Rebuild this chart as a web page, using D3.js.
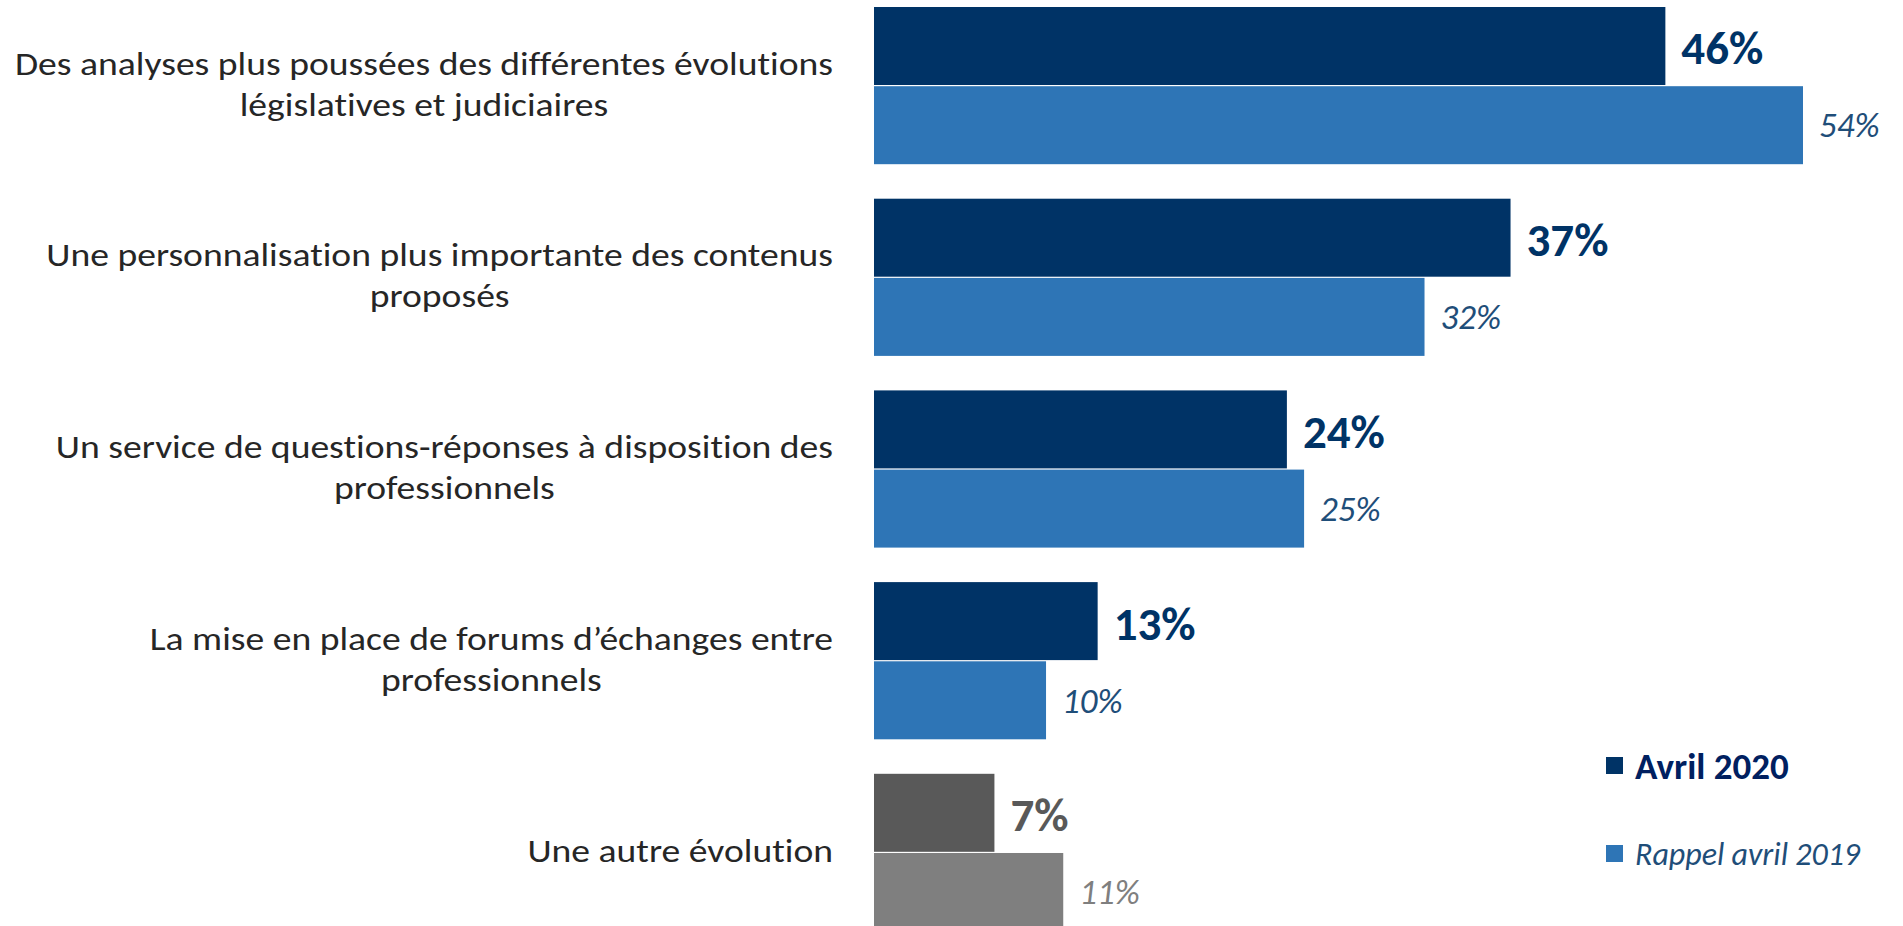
<!DOCTYPE html>
<html>
<head>
<meta charset="utf-8">
<script src="https://cdn.jsdelivr.net/npm/d3@7"></script>
<style>
  html, body { margin: 0; padding: 0; background: #fff; }
  svg { display: block; }
  text { font-family: Carlito, Calibri, "Open Sans", sans-serif; font-variant-ligatures: none; }
</style>
</head>
<body>
<div id="chart"></div>
<script>
// data
const categories = [
  ['Des analyses plus poussées des différentes évolutions', 'législatives et judiciaires'],
  ['Une personnalisation plus importante des contenus', 'proposés'],
  ['Un service de questions-réponses à disposition des', 'professionnels'],
  ['La mise en place de forums d\u2019échanges entre', 'professionnels'],
  ['Une autre évolution']
]
const series = ['Avril 2020', 'Rappel avril 2019']
const values2020 = [46, 37, 24, 13, 7]
const values2019 = [54, 32, 25, 10, 11]

const width = 1903
const height = 926

let svg = d3.select('#chart').append('svg')
  .attr('width', width)
  .attr('height', height)

let rows = categories.map((c, i) => ({
  id: i,
  lines: c,
  values: [values2020[i], values2019[i]],
  other: i === categories.length - 1
}))

let y = d3.scaleBand()
  .domain(rows.map(d => d.id))
  .range([7, 931])
  .paddingInner(0.18)
  .paddingOuter(0)

let ySub = d3.scaleBand()
  .domain([0, 1])
  .range([0, y.bandwidth()])
  .paddingInner(0.015)

let x = d3.scaleLinear()
  .domain([0, 54])
  .range([874, 1803])

const barColor = (d, s) => d.other ? (s === 0 ? '#595959' : '#7f7f7f') : (s === 0 ? '#003366' : '#2e75b6')
const labelColor = (d, s) => d.other ? (s === 0 ? '#595959' : '#7f7f7f') : (s === 0 ? '#003366' : '#1f4e79')

let group = svg.append('g')
  .selectAll('.row')
  .data(rows)
  .enter().append('g')
  .attr('class', 'row')
  .attr('transform', d => `translate(0,${y(d.id)})`)

group.selectAll('rect')
  .data(d => d.values.map((v, s) => ({ row: d, s, v })))
  .enter().append('rect')
  .attr('x', x(0))
  .attr('y', d => ySub(d.s))
  .attr('width', d => x(d.v) - x(0))
  .attr('height', ySub.bandwidth())
  .attr('fill', d => barColor(d.row, d.s))

group.selectAll('.val')
  .data(d => d.values.map((v, s) => ({ row: d, s, v })))
  .enter().append('text')
  .attr('class', 'val')
  .attr('x', d => x(d.v) + 16)
  .attr('y', d => ySub(d.s) + ySub.bandwidth() / 2 + (d.s === 0 ? 2 : 0))
  .attr('dy', '0.35em')
  .attr('fill', d => labelColor(d.row, d.s))
  .style('font-size', d => d.s === 0 ? '47px' : '35px')
  .style('font-weight', d => d.s === 0 ? 'bold' : 'normal')
  .style('font-style', d => d.s === 0 ? 'normal' : 'italic')
  .text(d => d.v + '%')

// category labels: block right-aligned at 833, lines centred inside the block,
// glyphs a bit wider than the font (like the original)
const labelRight = 833
const lineGap = 41
const stretch = 1.14
group.each(function (d) {
  let g = d3.select(this)
  let n = d.lines.length
  let lines = d.lines.map((line, k) => g.append('text')
    .attr('class', 'cat')
    .attr('y', y.bandwidth() / 2 - 2 + (k - (n - 1) / 2) * lineGap)
    .attr('dy', '0.35em')
    .attr('fill', '#262626')
    .style('font-size', '33px')
    .text(line))
  let widths = lines.map(t => t.node().getComputedTextLength() * stretch)
  let maxW = d3.max(widths)
  let cx = labelRight - maxW / 2
  lines.forEach((t, k) => t
    .attr('x', cx - widths[k] / 2)
    .attr('textLength', widths[k])
    .attr('lengthAdjust', 'spacingAndGlyphs'))
})

// legend
let legend = svg.append('g')
  .selectAll('.legend')
  .data(series)
  .enter().append('g')
  .attr('class', 'legend')
  .attr('transform', (d, i) => `translate(1606,${766 + i * 88})`)

legend.append('rect')
  .attr('x', 0)
  .attr('y', -9)
  .attr('width', 17)
  .attr('height', 17)
  .attr('fill', (d, i) => i === 0 ? '#003366' : '#2e75b6')

legend.append('text')
  .attr('x', 29)
  .attr('y', 0)
  .attr('dy', '0.35em')
  .attr('fill', (d, i) => i === 0 ? '#002060' : '#1f4e79')
  .style('font-size', (d, i) => i === 0 ? '37px' : '32px')
  .style('font-weight', (d, i) => i === 0 ? 'bold' : 'normal')
  .style('font-style', (d, i) => i === 0 ? 'normal' : 'italic')
  .text(d => d)
</script>
</body>
</html>
